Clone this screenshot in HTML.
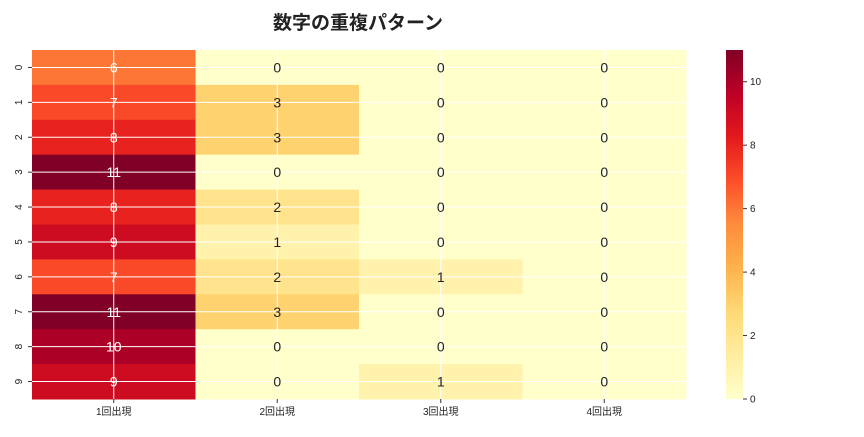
<!DOCTYPE html>
<html><head><meta charset="utf-8"><style>
body{margin:0;background:#fff;width:864px;height:432px;overflow:hidden}
svg{font-family:"Liberation Sans","Noto Sans CJK JP",sans-serif}
</style></head><body>
<svg id="c" width="864" height="432">
<text x="358" y="29" text-anchor="middle" font-size="19" font-weight="bold" fill="#222">数字の重複パターン</text>
<defs><linearGradient id="cb" x1="0" y1="1" x2="0" y2="0">
<stop offset="0" stop-color="#ffffcc"/><stop offset="0.125" stop-color="#ffeda0"/><stop offset="0.25" stop-color="#fed976"/><stop offset="0.375" stop-color="#feb24c"/><stop offset="0.5" stop-color="#fd8d3c"/><stop offset="0.625" stop-color="#fc4e2a"/><stop offset="0.75" stop-color="#e31a1c"/><stop offset="0.875" stop-color="#bd0026"/><stop offset="1" stop-color="#800026"/>
</linearGradient></defs>
<g id="cells"></g><g id="grid"></g><g id="labels"></g><g id="axes"></g>
<rect x="726" y="50" width="17" height="349" fill="url(#cb)"/>
<g id="cbticks"></g>
</svg>
<script>
const rowLabels=["0","1","2","3","4","5","6","7","8","9"];
const colLabels=["1回出現","2回出現","3回出現","4回出現"];
const values=[[6,0,0,0],[7,3,0,0],[8,3,0,0],[11,0,0,0],[8,2,0,0],[9,1,0,0],[7,2,1,0],[11,3,0,0],[10,0,0,0],[9,0,1,0]];
const cbTicks=[0,2,4,6,8,10];
const vmin=0,vmax=11;
const X0=32,X1=686,Y0=50,Y1=399;
const cw=(X1-X0)/colLabels.length, rh=(Y1-Y0)/rowLabels.length;
const stops=["#ffffcc","#ffeda0","#fed976","#feb24c","#fd8d3c","#fc4e2a","#e31a1c","#bd0026","#800026"].map(h=>[1,3,5].map(i=>parseInt(h.substr(i,2),16)));
function color(v){let t=(v-vmin)/(vmax-vmin)*(stops.length-1);let i=Math.min(Math.floor(t),stops.length-2);let f=t-i;let c=stops[i].map((a,k)=>Math.round(a+(stops[i+1][k]-a)*f));return `rgb(${c})`;}
const NS="http://www.w3.org/2000/svg";
function mk(tag,attrs,parent){const e=document.createElementNS(NS,tag);for(const k in attrs)e.setAttribute(k,attrs[k]);document.getElementById(parent).appendChild(e);return e;}
values.forEach((row,r)=>row.forEach((v,c)=>{
 const rc=mk("rect",{x:X0+c*cw,y:Y0+r*rh,width:cw+0.5,height:rh+0.5,fill:color(v)},"cells");
 
 
 const t=mk("text",{x:X0+(c+0.5)*cw,y:Y0+(r+0.5)*rh+5,"text-anchor":"middle","font-size":"14",fill:v>=6?"#fff":"#222"},"labels");
 t.textContent=v;
 
 
}));
rowLabels.forEach((l,r)=>{
 const y=Y0+(r+0.5)*rh;
 mk("line",{x1:X0,x2:X1,y1:y,y2:y,stroke:"#fff","stroke-width":1},"grid");
 mk("line",{x1:X0-4,x2:X0,y1:y,y2:y,stroke:"#333"},"axes");
 const t=mk("text",{x:0,y:0,"text-anchor":"middle","font-size":"10",fill:"#222",transform:`translate(${X0-10},${y}) rotate(-90)`},"axes");
 t.textContent=l;
 
 
});
colLabels.forEach((l,c)=>{
 const x=X0+(c+0.5)*cw;
 mk("line",{x1:x,x2:x,y1:Y0,y2:Y1,stroke:"#fff","stroke-width":1},"grid");
 mk("line",{x1:x,x2:x,y1:Y1,y2:Y1+4,stroke:"#333"},"axes");
 const t=mk("text",{x:x,y:Y1+16,"text-anchor":"middle","font-size":"10",fill:"#222"},"axes");
 t.textContent=l;
 
 
});
cbTicks.forEach(v=>{
 const y=Y1-(v-vmin)/(vmax-vmin)*(Y1-Y0);
 mk("line",{x1:743,x2:747,y1:y,y2:y,stroke:"#333"},"cbticks");
 const t=mk("text",{x:750,y:y+3.5,"font-size":"10",fill:"#222"},"cbticks");
 t.textContent=v;
 
 
});
</script>
</body></html>
